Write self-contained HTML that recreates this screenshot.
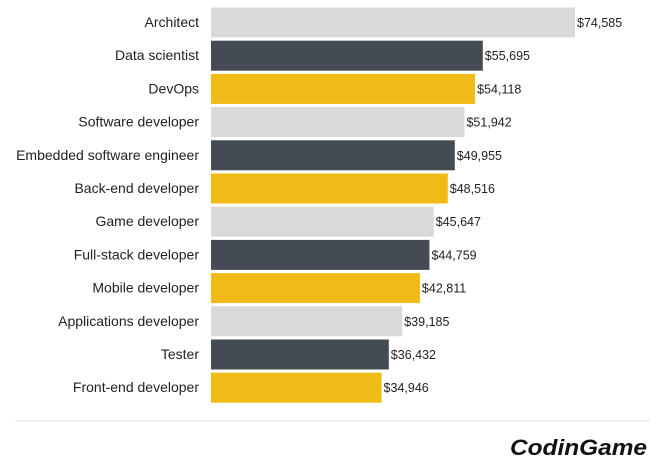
<!DOCTYPE html>
<html><head><meta charset="utf-8"><style>
body{margin:0;background:#fff;width:659px;height:467px;overflow:hidden;font-family:"Liberation Sans",sans-serif}
</style></head><body>
<svg id="c" width="659" height="467">
<line x1="15" y1="421" x2="650" y2="421" stroke="#dcdcdc" stroke-width="1"/>
<text x="510" y="455" font-size="22" font-weight="bold" font-style="italic" fill="#111" textLength="137" lengthAdjust="spacingAndGlyphs">CodinGame</text>
</svg>
<script>
const categories=["Architect","Data scientist","DevOps","Software developer","Embedded software engineer","Back-end developer","Game developer","Full-stack developer","Mobile developer","Applications developer","Tester","Front-end developer"];
const values=[74585,55695,54118,51942,49955,48516,45647,44759,42811,39185,36432,34946];
const colors=["#d9d9d9","#454b55","#f0bb16"];
const svg=document.getElementById('c');
const NS="http://www.w3.org/2000/svg";
const x0=211, scale=364/74585, top0=7.5, pitch=33.2, bh=30;
function xs(v){return v*scale;}
function ys(i){return top0+i*pitch;}
categories.forEach((c,i)=>{
  const r=document.createElementNS(NS,'rect');
  r.setAttribute('x',x0);r.setAttribute('y',ys(i));
  r.setAttribute('width',xs(values[i]));r.setAttribute('height',bh);
  r.setAttribute('fill',colors[i%3]);
  
  
  svg.appendChild(r);
  const t=document.createElementNS(NS,'text');
  t.setAttribute('x',199);t.setAttribute('y',ys(i)+bh/2+4.5);
  t.setAttribute('text-anchor','end');t.setAttribute('font-size','14');t.setAttribute('fill','#222');
  t.textContent=c;
  
  
  svg.appendChild(t);
  const v=document.createElementNS(NS,'text');
  v.setAttribute('x',x0+xs(values[i])+2);v.setAttribute('y',ys(i)+bh/2+4.5);
  v.setAttribute('font-size','12.5');v.setAttribute('fill','#222');
  v.textContent='$'+values[i].toLocaleString('en-US');
  
  
  svg.appendChild(v);
});
</script>
</body></html>
